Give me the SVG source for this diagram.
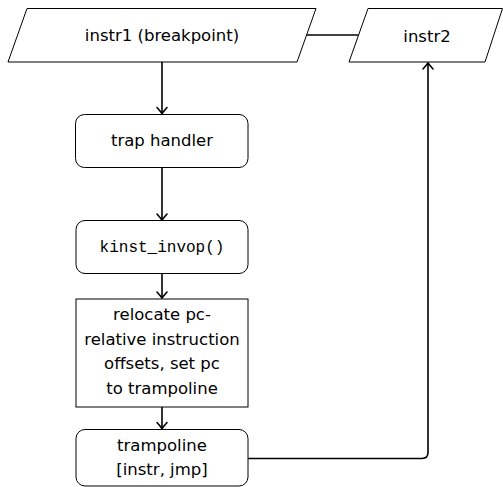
<svg xmlns="http://www.w3.org/2000/svg" width="503" height="487" viewBox="0 0 503 487">
<style>
.shape{fill:#fff;stroke:#000;stroke-width:1}
.conn{fill:none;stroke:#000;stroke-width:1.6}
text{font-family:"DejaVu Sans",sans-serif;font-size:16.5px;text-anchor:middle;fill:#000}
.mono{font-family:"Liberation Mono","DejaVu Sans Mono",monospace;font-size:16px}
</style>
<defs>
<marker id="arr" markerUnits="userSpaceOnUse" markerWidth="14" markerHeight="14" viewBox="-8 -7 10 14" refX="0" refY="0" orient="auto">
<path d="M-6,-5 Q-2,-1.5 0,0 Q-2,1.5 -6,5" fill="none" stroke="#000" stroke-width="1.6" stroke-linecap="round"/>
</marker>
</defs>
<g id="connectors">
<line class="conn" x1="306.5" y1="35" x2="358.5" y2="35"/>
<line class="conn" x1="162" y1="62" x2="162" y2="113.5" marker-end="url(#arr)"/>
<line class="conn" x1="162" y1="168" x2="162" y2="220" marker-end="url(#arr)"/>
<line class="conn" x1="162" y1="273.5" x2="162" y2="298" marker-end="url(#arr)"/>
<line class="conn" x1="162" y1="407" x2="162" y2="428.5" marker-end="url(#arr)"/>
<path class="conn" d="M248,458.5 H422 Q428,458.5 428,452.5 V63" marker-end="url(#arr)"/>
</g>
<g id="instr1">
<polygon class="shape" points="27,8.5 316,8.5 297,62 8,62"/>
<text x="162" y="41">instr1 (breakpoint)</text>
</g>
<g id="instr2">
<polygon class="shape" points="368,8.5 502.5,8.5 485,62 349,62"/>
<text x="427" y="41.5">instr2</text>
</g>
<g id="trap">
<rect class="shape" x="75.5" y="114.5" width="172.5" height="53" rx="9"/>
<text x="162" y="146">trap handler</text>
</g>
<g id="kinst">
<rect class="shape" x="76" y="220.5" width="172" height="53" rx="9"/>
<text class="mono" x="162" y="252">kinst_invop()</text>
</g>
<g id="relocate">
<rect class="shape" x="76" y="299" width="172" height="108"/>
<text x="162" y="320">relocate pc-</text>
<text x="162" y="344.5">relative instruction</text>
<text x="162" y="369">offsets, set pc</text>
<text x="162" y="393.5">to trampoline</text>
</g>
<g id="trampoline">
<rect class="shape" x="76" y="429.5" width="172" height="56.5" rx="9"/>
<text x="162" y="451">trampoline</text>
<text x="162" y="475">[instr, jmp]</text>
</g>
</svg>
